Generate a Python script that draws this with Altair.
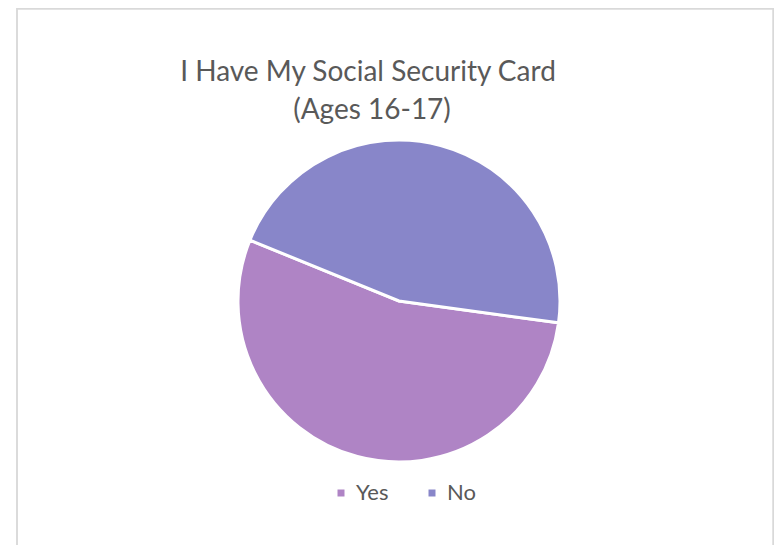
import altair as alt
import pandas as pd
import math

categories = ["Yes", "No"]
shares = [54, 46]
colors = ["#AF84C5", "#8886C9"]
title_lines = ["I Have My Social Security Card", "(Ages 16-17)"]

df = pd.DataFrame({"answer": categories, "share": shares, "order": [0, 1]})

W, H = 766, 537
start = math.radians(97.8)

pie = alt.Chart(df).mark_arc(outerRadius=161, stroke="white", strokeWidth=3).encode(
    theta=alt.Theta("share:Q", stack=True, scale=alt.Scale(range=[start, start + 2 * math.pi])),
    order=alt.Order("order:Q"),
    color=alt.Color(
        "answer:N",
        scale=alt.Scale(domain=categories, range=colors),
        legend=alt.Legend(
            title=None,
            orient="none",
            direction="horizontal",
            legendX=322,
            legendY=474,
            symbolType="square",
            symbolSize=49,
            symbolStrokeWidth=0,
            labelFont="Lato",
            labelFontSize=22,
            labelColor="#595959",
            labelOffset=4,
            columnPadding=32,
        ),
    ),
    x=alt.value(391),
    y=alt.value(293),
)

t1 = alt.Chart(pd.DataFrame({"line": [title_lines[0]]})).mark_text(
    font="Lato", fontSize=28, color="#595959", align="center", baseline="alphabetic"
).encode(text="line:N", x=alt.value(360), y=alt.value(73))

t2 = alt.Chart(pd.DataFrame({"line": [title_lines[1]]})).mark_text(
    font="Lato", fontSize=28, color="#595959", align="center", baseline="alphabetic"
).encode(text="line:N", x=alt.value(364), y=alt.value(111))

frame_l = alt.Chart(df).mark_rule(color="#d9d9d9", strokeWidth=1.5).encode(
    x=alt.value(9), y=alt.value(0), y2=alt.value(H)
)
frame_t = alt.Chart(df).mark_rule(color="#d9d9d9", strokeWidth=1.5).encode(
    x=alt.value(9), x2=alt.value(W), y=alt.value(0.75)
)
frame_r = alt.Chart(df).mark_rule(color="#d9d9d9", strokeWidth=1.5).encode(
    x=alt.value(W - 0.75), y=alt.value(0), y2=alt.value(H)
)

chart = alt.layer(frame_l, frame_t, frame_r, pie, t1, t2).properties(
    width=W, height=H, padding=0, autosize=alt.AutoSizeParams(type="none")
).configure_view(stroke=None)

chart.save("out.html", embed_options={"renderer": "svg", "actions": False})
